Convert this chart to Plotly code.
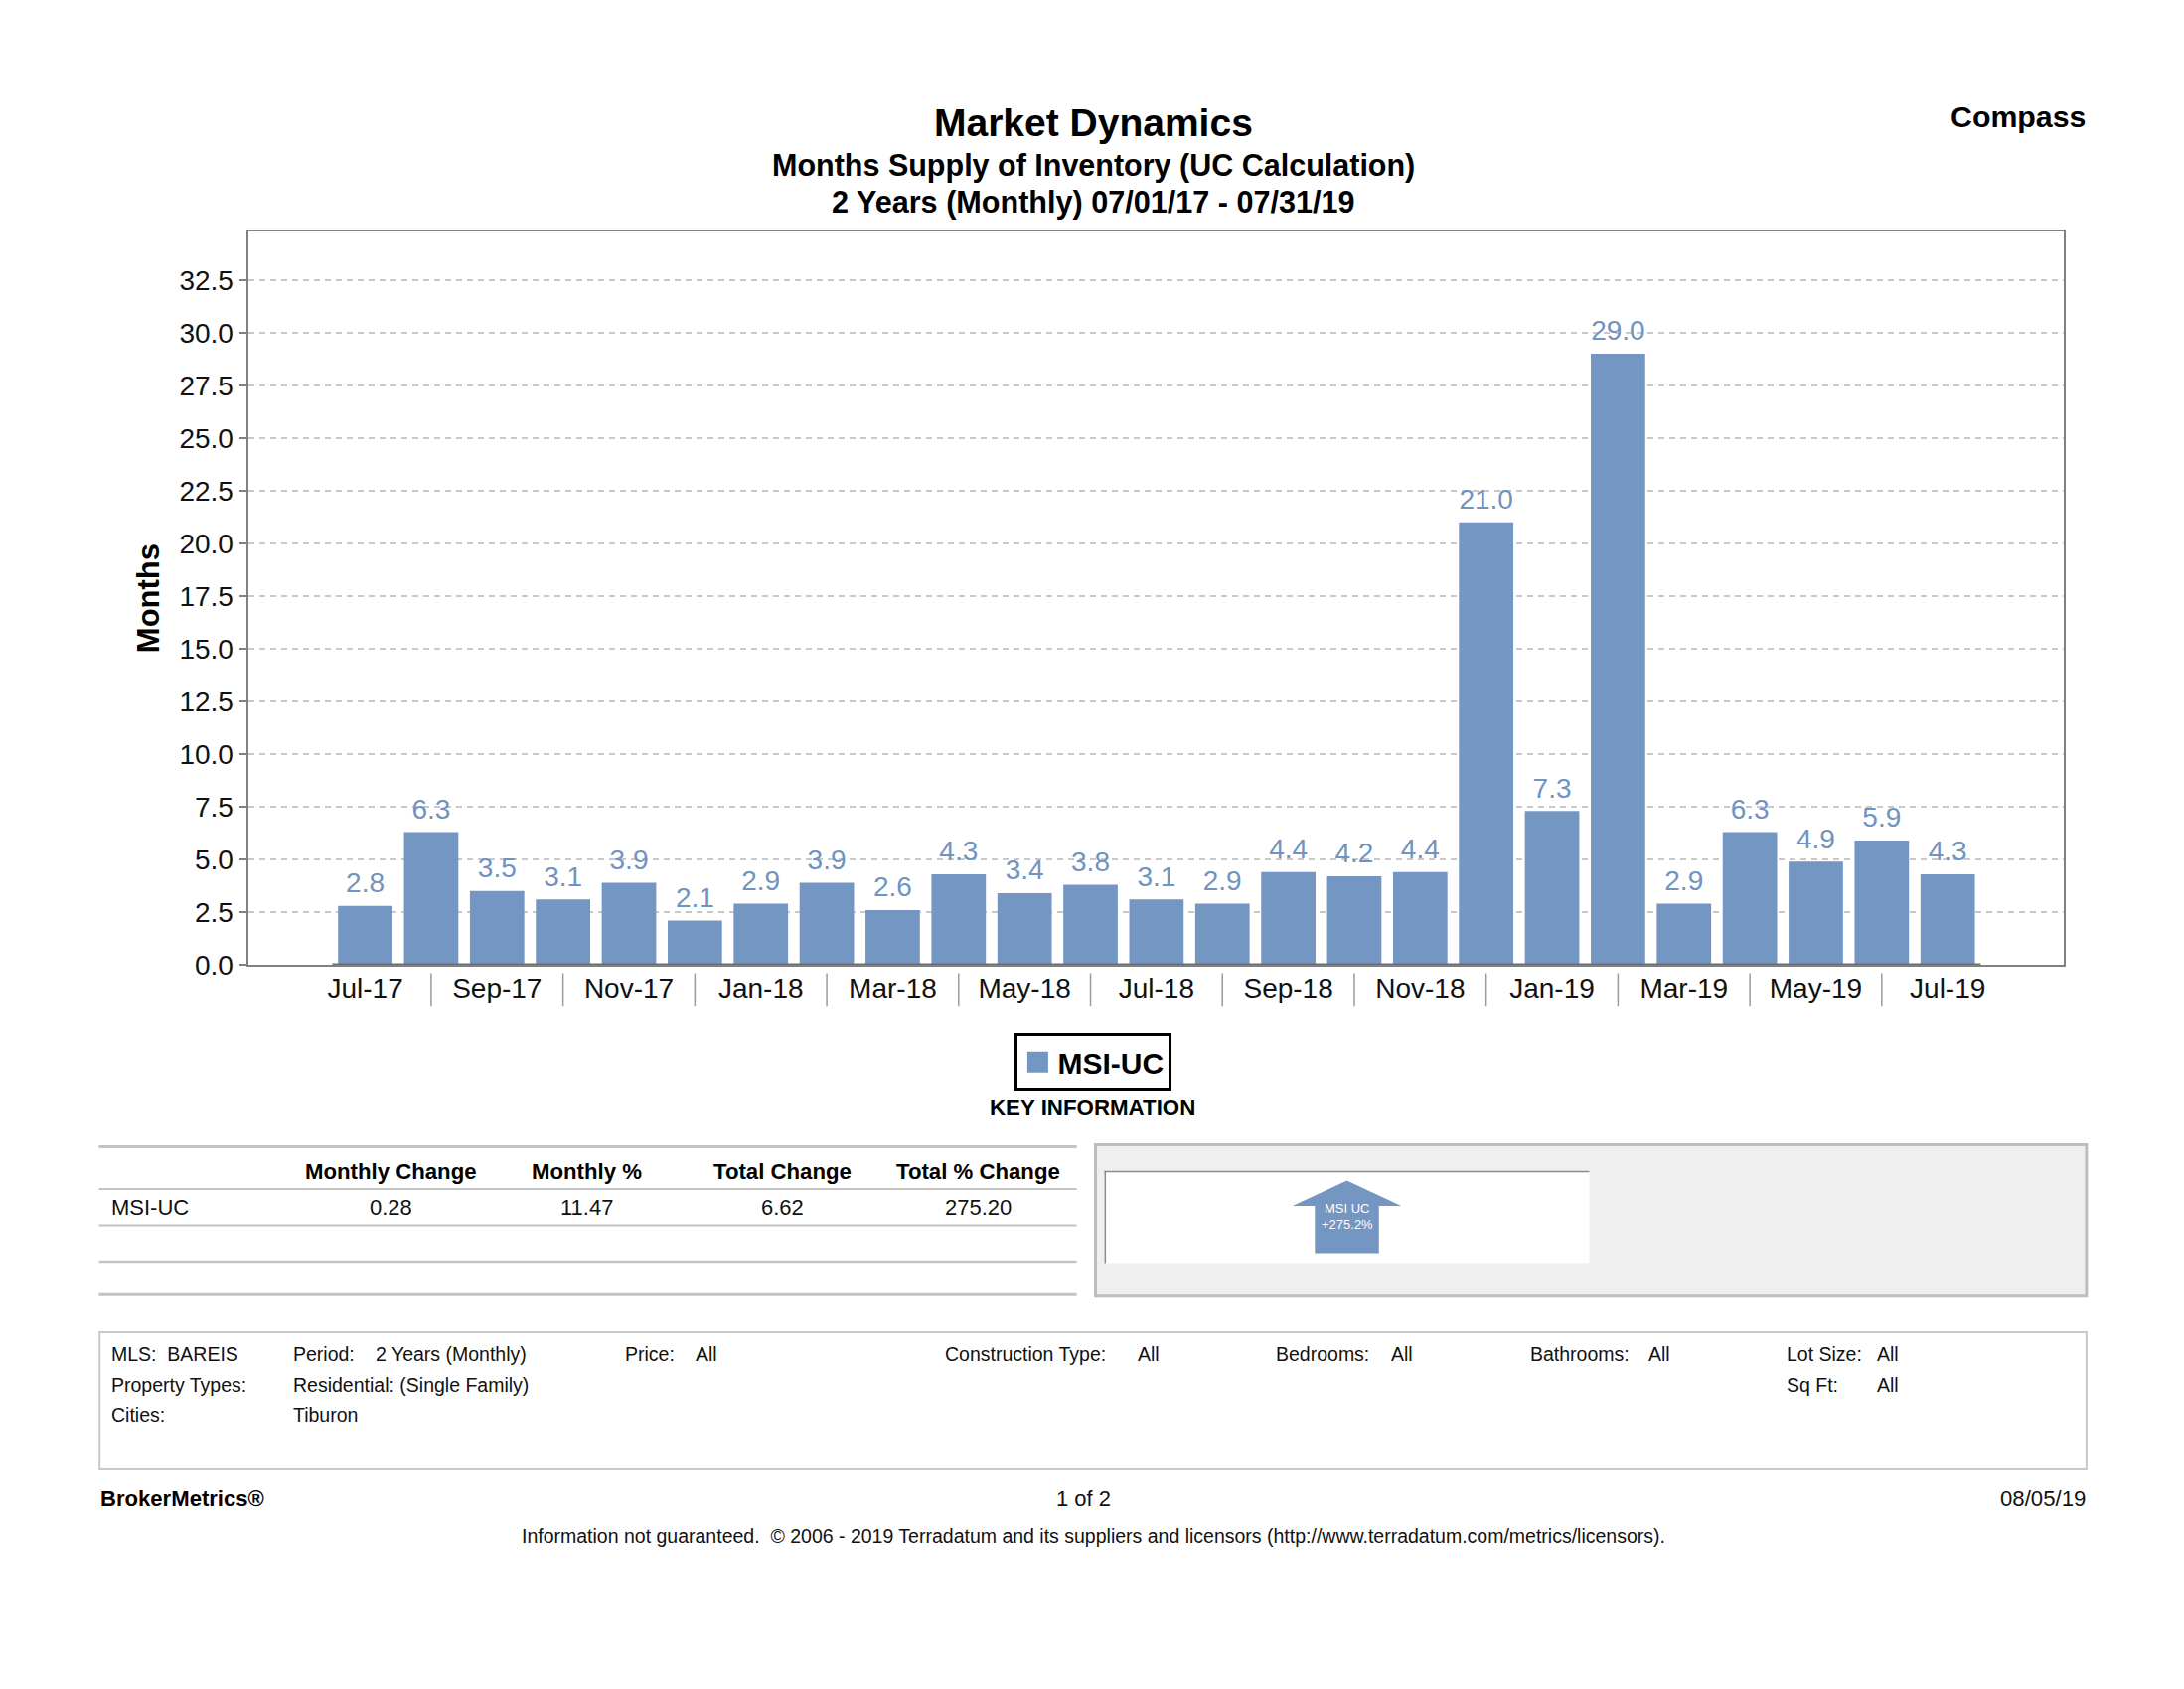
import plotly.graph_objects as go

# ---- data ----
categories = ["Jul-17","Aug-17","Sep-17","Oct-17","Nov-17","Dec-17","Jan-18","Feb-18","Mar-18","Apr-18",
              "May-18","Jun-18","Jul-18","Aug-18","Sep-18","Oct-18","Nov-18","Dec-18","Jan-19","Feb-19",
              "Mar-19","Apr-19","May-19","Jun-19","Jul-19"]
msi_uc = [2.8,6.3,3.5,3.1,3.9,2.1,2.9,3.9,2.6,4.3,3.4,3.8,3.1,2.9,4.4,4.2,4.4,21.0,7.3,29.0,2.9,6.3,4.9,5.9,4.3]
y_ticks = [0,2.5,5,7.5,10,12.5,15,17.5,20,22.5,25,27.5,30,32.5]
table_header = ["Monthly Change","Monthly %","Total Change","Total % Change"]
table_row = ["MSI-UC","0.28","11.47","6.62","275.20"]

W, H = 2198, 1700
DW, DH = 1568.0, 1200.0
BLUE = "#7496c3"
LABEL = "#7093c0"
FONT = "Liberation Sans"
fx = lambda d: d / DW
fy = lambda d: 1 - d / DH
xs = list(range(len(categories)))

fig = go.Figure()
fig.add_trace(go.Bar(
    x=xs, y=msi_uc, name="MSI-UC", width=0.825, showlegend=False,
    marker=dict(color=BLUE, line=dict(color=BLUE, width=0)),
    hovertext=categories, hoverinfo="text+y",
))
# value labels: an invisible marker sets the gap between each bar top and its label
fig.add_trace(go.Scatter(
    x=xs, y=msi_uc, mode="markers+text", showlegend=False, hoverinfo="skip", cliponaxis=False,
    text=[f"{v:.1f}" for v in msi_uc], textposition="top center", marker=dict(size=9, opacity=0),
    textfont=dict(family=FONT, size=28, color=LABEL),
))
# legend key (bar swatches are fixed at 12px in the legend, so a square marker stands in)
fig.add_trace(go.Scatter(x=[None], y=[None], mode="markers", name="MSI-UC", hoverinfo="skip",
                         marker=dict(symbol="square", size=16, color=BLUE, line=dict(color=BLUE, width=5))))

shapes, annos = [], []

def rect(x0, y0, x1, y1, fill="rgba(0,0,0,0)", line="rgba(0,0,0,0)", w=0):
    shapes.append(dict(type="rect", xref="paper", yref="paper", x0=fx(x0), x1=fx(x1), y0=fy(y0), y1=fy(y1),
                       fillcolor=fill, line=dict(color=line, width=w), layer="below"))

def line(x0, y0, x1, y1, color="#c4c4c4", w=2):
    shapes.append(dict(type="line", xref="paper", yref="paper", x0=fx(x0), x1=fx(x1), y0=fy(y0), y1=fy(y1),
                       line=dict(color=color, width=w), layer="below"))

def text(x, y, s, size=19.5, bold=False, anchor="left", color="#111111"):
    annos.append(dict(xref="paper", yref="paper", x=fx(x), y=fy(y), text=s, showarrow=False, xanchor=anchor,
                      yanchor="middle", borderpad=0,
                      font=dict(family=FONT, size=size, color=color, weight=700 if bold else 400)))

# titles
text(785, 88, "Market Dynamics", 39, True, "center", "#000000")
text(785, 119, "Months Supply of Inventory (UC Calculation)", 30.5, True, "center", "#000000")
text(785, 145, "2 Years (Monthly) 07/01/17 - 07/31/19", 30.6, True, "center", "#000000")
text(1498, 84, "Compass", 30.3, True, "right", "#000000")

# axis separators between labels and thick baseline
for i in range(1, len(categories) - 1, 2):
    shapes.append(dict(type="line", xref="x", yref="paper", x0=i, x1=i, y0=fy(698), y1=fy(722),
                       line=dict(color="#9a9a9a", width=1.5)))
shapes.append(dict(type="line", xref="x", yref="y", x0=-0.5, x1=len(categories) - 0.5, y0=0, y1=0,
                   line=dict(color="#6e6e6e", width=3)))

# legend caption
text(784, 794, "KEY INFORMATION", 22.3, True, "center", "#000000")

# key info table
for y, w in [(822, 3), (853, 2), (879, 2), (905, 2.5), (928, 3)]:
    line(71, y, 773, y, "#c2c2c2", w)
for xc, s in zip([281, 421, 562, 702], table_header):
    text(xc, 840.5, s, 22.2, True, "center", "#000000")
text(79, 866, table_row[0], 22)
for xc, s in zip([281, 421, 562, 702], table_row[1:]):
    text(xc, 866, s, 22, False, "center")

# grey panel with arrow
rect(786.5, 820.5, 1498, 929, "#efefef", "#bdbdbd", 3)
rect(793, 840, 1141, 906, "#ffffff")
line(793, 840.5, 1141, 840.5, "#8a8a8a", 1.5)
line(793.5, 840, 793.5, 906, "#8a8a8a", 1.5)
arrow = [(967, 847), (1006, 865), (990, 865), (990, 899), (944, 899), (944, 865), (928, 865)]
shapes.append(dict(type="path", xref="paper", yref="paper", layer="below", fillcolor=BLUE, line=dict(width=0),
                   path="M " + " L ".join(f"{fx(a)},{fy(b)}" for a, b in arrow) + " Z"))
text(967, 867, "MSI UC", 13, False, "center", "#ffffff")
text(967, 878, "+275.2%", 13, False, "center", "#ffffff")

# filter box
rect(71.5, 955.5, 1498, 1054, "#ffffff", "#c8c8c8", 2)
R1, R2, R3 = 971, 993, 1015
for x, y, s in [(79, R1, "MLS:&nbsp;&nbsp;BAREIS"), (210, R1, "Period:"), (269, R1, "2 Years (Monthly)"),
                (448, R1, "Price:"), (499, R1, "All"), (678, R1, "Construction Type:"), (816, R1, "All"),
                (915, R1, "Bedrooms:"), (998, R1, "All"), (1098, R1, "Bathrooms:"), (1183, R1, "All"),
                (1282, R1, "Lot Size:"), (1347, R1, "All"),
                (79, R2, "Property Types:"), (210, R2, "Residential: (Single Family)"),
                (1282, R2, "Sq Ft:"), (1347, R2, "All"),
                (79, R3, "Cities:"), (210, R3, "Tiburon")]:
    text(x, y, s)

# footer
text(71, 1075, "BrokerMetrics®", 22.1, True, "left", "#000000")
text(778, 1075, "1 of 2", 22, False, "center")
text(1498, 1075, "08/05/19", 22.2, False, "right")
text(785, 1102, "Information not guaranteed.&nbsp;&nbsp;© 2006 - 2019 Terradatum and its suppliers and licensors (http://www.terradatum.com/metrics/licensors).",
     19.5, False, "center")

fig.update_layout(
    width=W, height=H, autosize=False, paper_bgcolor="#ffffff", plot_bgcolor="rgba(0,0,0,0)",
    margin=dict(l=0, r=0, t=0, b=0), font=dict(family=FONT, color="#111111"),
    bargap=0.19, shapes=shapes, annotations=annos, showlegend=True,
    legend=dict(x=fx(785), y=fy(762), xanchor="center", yanchor="middle", bordercolor="#000000", borderwidth=3,
                bgcolor="#ffffff", font=dict(family=FONT, size=30, color="#000000", weight=700), itemclick=False,
                entrywidth=124, entrywidthmode="pixels"),
    xaxis=dict(domain=[fx(178), fx(1482)], range=[-1.779, 25.767], tickmode="array",
               tickvals=list(range(0, len(categories), 2)), ticktext=categories[::2],
               tickfont=dict(family=FONT, size=28, color="#111111"), ticks="", showgrid=False, zeroline=False,
               ticklabelstandoff=-3,
               showline=True, linecolor="#808080", linewidth=2, mirror=True),
    yaxis=dict(domain=[fy(692), fy(166)], range=[0, 34.8], tickmode="array", tickvals=y_ticks,
               ticktext=[f"{v:.1f}" for v in y_ticks], tickfont=dict(family=FONT, size=28, color="#111111"),
               ticks="outside", ticklen=7, tickcolor="#808080", tickwidth=2,
               showgrid=True, gridcolor="#c8c8c8", griddash="6px,5px", gridwidth=1.5, zeroline=False,
               showline=True, linecolor="#808080", linewidth=2, mirror=True,
               title=dict(text="Months", font=dict(family=FONT, size=31, color="#000000", weight=700), standoff=11)),
)
fig.write_html("out.html", config={"displayModeBar": False}, post_script="document.body.style.margin='0';")
